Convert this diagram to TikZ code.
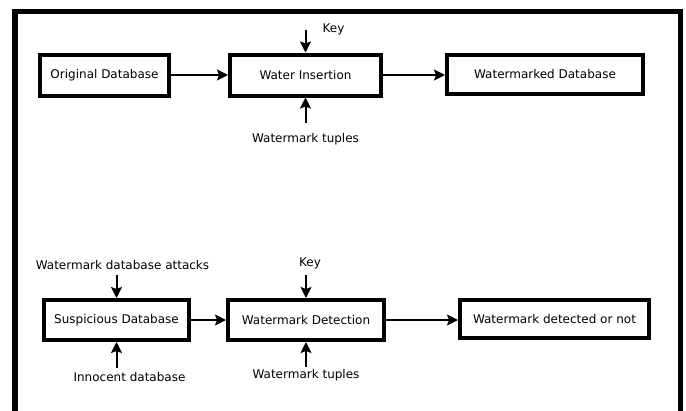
\documentclass[tikz,border=0pt]{standalone}
\usepackage{fontspec}
\setmainfont{DejaVu Sans}
\usepackage{tikz}
\usetikzlibrary{positioning, arrows.meta}
\tikzset{
    block/.style={rectangle, draw=black, line width=4pt, fill=white, align=center, minimum height=41pt, font=\fontsize{12}{14}\selectfont},
    lbl/.style={inner sep=2pt, font=\fontsize{12}{14}\selectfont},
    arrow/.style={-{Stealth[length=11pt, width=11pt, inset=2pt]}, line width=2pt},
    frame/.style={draw=black, line width=5.5pt}
}
\begin{document}
\begin{tikzpicture}[x=1pt, y=-1pt]
        \useasboundingbox (0,0) rectangle (686,410);

        % Frame
        \draw[frame] (15,416) -- (15,11.5) -- (680.5,11.5) -- (680.5,416);

        % Insertion
        \node[block, minimum width=129pt] (OD) at (104.5,75) {Original Database};
        \node[block, minimum width=151pt] (WI) at (305.5,75) {Water Insertion};
        \node[block, minimum width=196pt, minimum height=39pt] (WM) at (545,74) {Watermarked Database};
        \node[lbl, above=15pt of WI.north, xshift=28pt] (K1) {Key};
        \node[lbl, below=34pt of WI] (WT1) {Watermark tuples};
        \coordinate (K1in) at (WI.north |- K1.west);

        \draw[arrow] (OD) -- (WI);
        \draw[arrow] (WI.east) -- (WI.east -| WM.west);
        \draw[arrow] (K1in) -- (WI);
        \draw[arrow, shorten <=9pt] (WT1) -- (WI);

        % Detection
        \node[block, minimum width=145pt, minimum height=40pt] (SD) at (116.5,320) {Suspicious Database};
        \node[block, minimum width=156pt, minimum height=40pt] (WD) at (306,320) {Watermark Detection};
        \node[block, minimum width=189pt, minimum height=38pt] (WN) at (554.5,319) {Watermark detected or not};
        \node[lbl, above=26pt of SD, xshift=6pt] (WDA) {Watermark database attacks};
        \node[lbl, below=28pt of SD, xshift=13pt] (IDB) {Innocent database};
        \node[lbl, above=27pt of WD, xshift=4pt] (K2) {Key};
        \node[lbl, below=25pt of WD] (WT2) {Watermark tuples};

        \draw[arrow] (SD) -- (WD);
        \draw[arrow] (WD.east) -- (WD.east -| WN.west);
        \draw[arrow, shorten <=3pt] (WDA.south -| SD.north) -- (SD);
        \draw[arrow, shorten <=2pt] (IDB.north -| SD.south) -- (SD);
        \draw[arrow, shorten <=4pt] (K2.south -| WD.north) -- (WD);
        \draw[arrow] (WT2) -- (WD);

    \end{tikzpicture}
\end{document}
